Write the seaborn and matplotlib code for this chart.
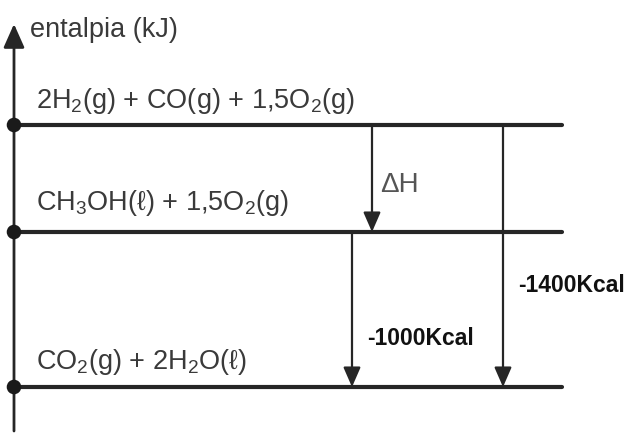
import numpy as np
import pandas as pd
import seaborn as sns
import matplotlib.pyplot as plt

# enthalpy diagram data (diagram heights are schematic, not to scale)
LEVEL_LABELS = [
    r"2H$\mathregular{_2}$(g) + CO(g) + 1,5O$\mathregular{_2}$(g)",
    r"CH$\mathregular{_3}$OH(ℓ) + 1,5O$\mathregular{_2}$(g)",
    r"CO$\mathregular{_2}$(g) + 2H$\mathregular{_2}$O(ℓ)",
]
LEVEL_HEIGHTS = [309, 202, 47]
ARROW_FROM = [0, 1, 0]
ARROW_TO = [1, 2, 2]
ARROW_LABELS = ["ΔH", "-1000Kcal", "-1400Kcal"]
AXIS_LABEL = "entalpia (kJ)"

# layout
W, H = 628, 435
LINE_X0, LINE_X1 = 14, 562
ARROW_X = [372, 352, 503]
ARROW_LABEL_POS = [(380, 243), (367, 90), (518, 143)]
TEXT_COLOR = "#3a3a3a"
LINE_COLOR = "#262626"
MAIN_FONT = "Liberation Sans"

sns.set_theme(style="white")
plt.rcParams["font.family"] = [MAIN_FONT, "DejaVu Sans"]
plt.rcParams["mathtext.fontset"] = "custom"
plt.rcParams["mathtext.rm"] = MAIN_FONT
plt.rcParams["mathtext.it"] = MAIN_FONT + ":italic"
plt.rcParams["mathtext.bf"] = MAIN_FONT + ":bold"

fig = plt.figure(figsize=(W / 100, H / 100), dpi=100)
ax = fig.add_axes([0, 0, 1, 1])
ax.set_xlim(0, W)
ax.set_ylim(0, H)
ax.axis("off")

# energy levels
df_levels = pd.DataFrame({
    "x": np.tile([LINE_X0, LINE_X1], len(LEVEL_HEIGHTS)),
    "y": np.repeat(LEVEL_HEIGHTS, 2),
    "level": np.repeat(np.arange(len(LEVEL_HEIGHTS)), 2),
})
sns.lineplot(data=df_levels, x="x", y="y", units="level", estimator=None,
             color=LINE_COLOR, lw=3.0, ax=ax, legend=False)
sns.scatterplot(x=[LINE_X0] * len(LEVEL_HEIGHTS), y=LEVEL_HEIGHTS, s=110,
                color="#1a1a1a", edgecolor="none", zorder=5, ax=ax)

# vertical enthalpy axis
ax.annotate("", xy=(LINE_X0, 410), xytext=(LINE_X0, 3),
            arrowprops=dict(arrowstyle="-|>,head_length=0.9,head_width=0.4",
                            mutation_scale=16, lw=2.0, color=LINE_COLOR,
                            shrinkA=0, shrinkB=0))
ax.text(30, 398, AXIS_LABEL, fontsize=19.5, color=TEXT_COLOR, va="baseline")

label_baselines = [327, 225, 66]
for lab, yb in zip(LEVEL_LABELS, label_baselines):
    ax.text(36, yb, lab, fontsize=19.5, color=TEXT_COLOR, va="baseline")

# enthalpy change arrows
for i, (a, b) in enumerate(zip(ARROW_FROM, ARROW_TO)):
    ax.annotate("", xy=(ARROW_X[i], LEVEL_HEIGHTS[b]),
                xytext=(ARROW_X[i], LEVEL_HEIGHTS[a]),
                arrowprops=dict(arrowstyle="-|>,head_length=0.8,head_width=0.35",
                                mutation_scale=15, lw=1.6, color=LINE_COLOR,
                                shrinkA=0, shrinkB=0))

ax.text(*ARROW_LABEL_POS[0], ARROW_LABELS[0], fontsize=20, color="#555555",
        va="baseline")
for i in (1, 2):
    ax.text(*ARROW_LABEL_POS[i], ARROW_LABELS[i], fontsize=16.5, color="#111111",
            fontweight="bold", va="baseline")

fig.savefig("out.png", dpi=100, facecolor="white")
